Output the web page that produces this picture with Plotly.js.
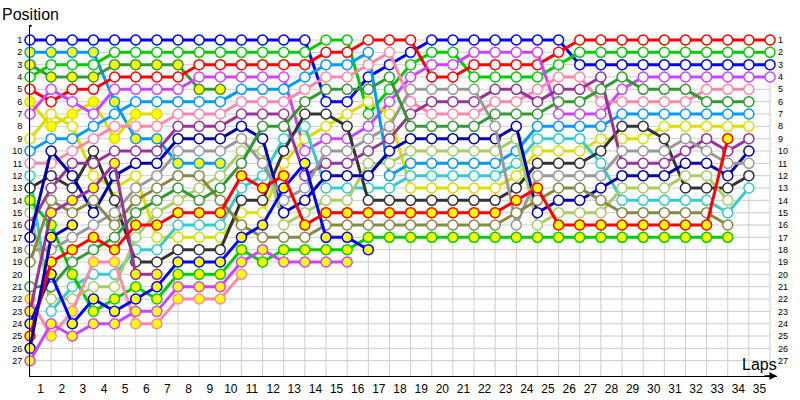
<!DOCTYPE html>
<html>
<head>
<meta charset="utf-8">
<script src="https://cdn.plot.ly/plotly-3.0.1.min.js"></script>
<style>html,body{margin:0;padding:0;background:#fff;}#chart{width:800px;height:400px;}</style>
</head>
<body>
<div id="chart"></div>
<script>
// Laps (0 = grid) and x tick labels
const laps = [0,1,2,3,4,5,6,7,8,9,10,11,12,13,14,15,16,17,18,19,20,21,22,23,24,25,26,27,28,29,30,31,32,33,34,35];
const lapLabels = ["1","2","3","4","5","6","7","8","9","10","11","12","13","14","15","16","17","18","19","20","21","22","23","24","25","26","27","28","29","30","31","32","33","34","35"];
const positions = [1,2,3,4,5,6,7,8,9,10,11,12,13,14,15,16,17,18,19,20,21,22,23,24,25,26,27];
const posLabels = ["1","2","3","4","5","6","7","8","9","10","11","12","13","14","15","16","17","18","19","20","21","22","23","24","25","26","27"];

// Position of each car per lap (indexed by lap), named by grid slot
const car01 = [1,1,1,1,1,1,1,1,1,1,1,1,1,1,6,6,4,3,2,1,1,1,1,1,1,1,3,3,3,3,3,3,3,3,3,3];
const car02 = [2,2,2,2,6,9,9,11,11,11];
const car03 = [3,4,4,4,3,3,3,3,5,5];
const car04 = [4,3,3,3,2,2,2,2,2,2,2,2,2,2,1,1,7,5,3,2,2,4,4,4,4,3,2,2,2,2,2,2,2,2,2,2];
const car05 = [5,6,5,5,4,4,4,4,3,3,3,3,3,3,2,2,1,1,1,4,4,3,3,3,3,2,1,1,1,1,1,1,1,1,1,1];
const car06 = [6,8,7,6,9,7,7];
const car07 = [7,5,6,7,5,5,5,5,4,4,4,4,4,10,9,9,8,6,4,3,3,2,2,2,2,7,7,7,5,4,4,4,4,4,4,4];
const car09 = [9,7,8,12,13,12,17,17,17,17,15,15,11,9,8,7,6,7,13,13,13,13,13,12,10,10,10,9,9,9,8,8,8,8,8];
const car10 = [10,9,9,8,7,6,6,6,6,6,5,5,5,4,3,3,2,12,11,11,11,11,11,10,8,8,8,8,7,7,7,7,7,7,7];
const car11 = [11,11,10,9,8,8,8,7,7,7,6,6,6,5,4,4,3,2,6,7,7,7,6,6,5,4,4,6,6,6,6,6,5,5,5];
const car12 = [12,23,21,20,20,18,18,16,16,16,13,12,9,8,13,13,13,13,12,12,12,12,12,11,9,9,9,11,14,14,14,14,14,15,13];
const car13 = [13,12,13,10,14,19,19,18,18,18,14,14,10,7,7,8,14,14,14,14,14,14,14,13,11,11,11,10,8,8,9,13,13,13,12];
const car14 = [14,16,20,23,22,21,22,20,20,20,18,19,18,18,18,18,17,17,17,17,17,17,17,17,17,17,17,17,17,17,17,17,17,17];
const car15 = [15,22,22,21,21,17,15,14,13,12,10,10,16,15,14,14,11,11,10,10,10,10,10,9,16,15,15,15,13,13,13,12,12,14];
const car16 = [16,13,11,11,10,10,10,8,8,8,7,7,7,12,11,11,10,9,7,6,6,6,5,5,6,5,5,4,11,11,11,10,9,10,9];
const car17 = [17,10,12,15,12,11,11,9,9,9,8,9,15,14,12,12,12,10,9,9,9,9,9,8,15,14,14,13,12,12,12,11,11,12,10];
const car18 = [18,18,17,16,15,13,12,10,10,10,9,11,14,13,10,10,9,8,5,5,5,5,8,16,12,12,12,12,10,10,10,9,10,11,11];
const car19 = [19,14,15,14,16,14,13,12,12,14,16,17,17,17,16,16,16,16,16,16,16,16,16,15,14,13,13,14,15,15,15,15,15,16];
const car21 = [21,21,19,18,17,15,14,13,14,13,11,8,8,6,5,5,5,4,8,8,8,8,7,7,7,6,6,5,4,5,5,5,6,6,6];
const car22 = [22,25,23,19,19,24,24,22,22,22,20];
const car23 = [23,15,14,13,11,20,20];
const car24 = [24,20,24,22,23,22,21,19,19,19,17,16,13,11,17,17,18];
const car25 = [25,19,18,17,18,16,16,15,15,15,12,13,12,16,15,15,15,15,15,15,15,15,15,14,13,16,16,16,16,16,16,16,16,9];
const car26 = [26,17,16];
const car27 = [27,24,25,24,24,23,23,21,21,21,19,18,19,19,19,19];

const cars = [car01,car02,car03,car04,car05,car06,car07,car09,car10,car11,car12,car13,car14,
              car15,car16,car17,car18,car19,car21,car22,car23,car24,car25,car26,car27];
const lineColors = ["#0000ff","#0099ff","#339933","#00cc00","#ff0000","#dddd00","#cc44ff","#dddd00","#0099ff",
                    "#ff88aa","#33cccc","#333333","#00cc00","#aacc66","#993399","#0000b0","#999999","#888844",
                    "#339933","#ff88aa","#993399","#0000ff","#ff0000","#0000b0","#cc44ff"];
const markerFills = ["#ffffff","#ffff00","#ffff00","#ffffff","#ffffff","#ffff00","#ffffff","#ffffff","#ffffff",
                     "#ffffff","#ffffff","#ffffff","#ffff00","#ffffff","#ffffff","#ffffff","#ffffff","#ffffff",
                     "#ffffff","#ffff00","#ffff00","#ffff00","#ffff00","#ffff00","#ffff00"];

const traces = cars.map((c, i) => ({
  type: "scatter",
  mode: "lines+markers",
  x: laps.slice(0, c.length),
  y: c,
  cliponaxis: false,
  line: {color: lineColors[i], width: 3},
  marker: {size: 10, color: markerFills[i], line: {color: lineColors[i], width: 1.5}},
  showlegend: false,
  hoverinfo: "skip"
}));
// invisible trace so the right-hand position axis is drawn
traces.push({type: "scatter", mode: "markers", x: [laps[0]], y: [positions[0]], yaxis: "y2",
  marker: {opacity: 0}, showlegend: false, hoverinfo: "skip"});

const lastLap = laps[laps.length - 1];
const yBottom = 28.24, yTop = -0.216;
const shapes = [];
laps.forEach(l => shapes.push({type: "line", layer: "below", xref: "x", yref: "y",
  x0: l, x1: l, y0: positions[0], y1: yBottom, line: {color: "#cccccc", width: 1}}));
positions.forEach(p => shapes.push({type: "line", layer: "below", xref: "x", yref: "y",
  x0: laps[0], x1: lastLap, y0: p, y1: p, line: {color: "#cccccc", width: 1}}));

const layout = {
  width: 800, height: 400,
  margin: {l: 30, r: 23, t: 25, b: 24, pad: 0},
  paper_bgcolor: "#ffffff", plot_bgcolor: "#ffffff",
  font: {family: "Liberation Sans, Arial, sans-serif", color: "#000"},
  xaxis: {range: [0, 35.33], tickvals: laps.slice(1).map(l => l - 0.5), ticktext: lapLabels,
    showgrid: false, zeroline: false, showline: true, linecolor: "#000", linewidth: 1,
    ticks: "", tickfont: {size: 12}, ticklabelstandoff: 2, fixedrange: true},
  yaxis: {range: [yBottom, yTop], tickvals: positions, ticktext: posLabels,
    showgrid: false, zeroline: false, showline: true, linecolor: "#000", linewidth: 1,
    ticks: "", tickfont: {size: 9}, ticklabelstandoff: 5, fixedrange: true},
  yaxis2: {range: [yBottom, yTop], tickvals: positions, ticktext: posLabels, overlaying: "y", side: "right",
    showgrid: false, zeroline: false, showline: false, ticks: "", tickfont: {size: 9}, fixedrange: true},
  shapes: shapes,
  annotations: [
    {xref: "paper", yref: "paper", x: 0, y: 1, xanchor: "center", yanchor: "bottom", yshift: 0,
     text: "Position", showarrow: false, font: {size: 16}},
    {xref: "paper", yref: "paper", x: 0.976, y: 0.033, xanchor: "center", yanchor: "middle",
     text: "Laps", showarrow: false, font: {size: 16}},
    {xref: "paper", yref: "paper", x: 1, y: 0, ax: -14, ay: 0, text: "", showarrow: true,
     arrowhead: 2, arrowsize: 1, arrowwidth: 1.5, arrowcolor: "#000"},
    {xref: "paper", yref: "paper", x: 0, y: 1, xanchor: "center", yanchor: "middle",
     text: "●", showarrow: false, font: {size: 5, color: "#000"}}
  ]
};

Plotly.newPlot("chart", traces, layout, {displayModeBar: false, staticPlot: true});
</script>
</body>
</html>
